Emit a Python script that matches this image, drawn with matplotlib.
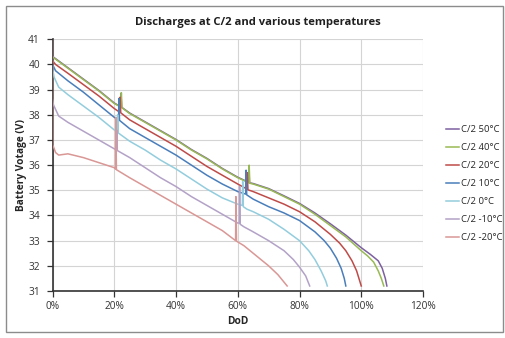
import matplotlib
matplotlib.use("Agg")
import matplotlib.pyplot as plt
from matplotlib.patches import Rectangle
from matplotlib.ticker import FuncFormatter, MultipleLocator

plt.rcParams['font.family'] = ['Open Sans', 'DejaVu Sans']

title = "Discharges at C/2 and various temperatures"
xlabel = "DoD"
ylabel = "Battery Votage (V)"
labels = ["C/2 50°C", "C/2 40°C", "C/2 20°C", "C/2 10°C", "C/2 0°C", "C/2 -10°C", "C/2 -20°C"]
colors = ["#7D60A0", "#98B954", "#BE4B48", "#4A7EBB", "#93CDDD", "#B3A2C7", "#D99795"]

# DoD in percent, voltage in V
x_50 = [0, 5, 10, 15, 20, 22.1, 22.2, 22.4, 25, 30, 35, 40, 45, 50, 55, 60, 63.5, 63.6, 63.8, 65, 70, 75, 80, 85, 90, 95, 100, 103, 105.5, 106.8, 107.8, 108.3]
y_50 = [40.32, 39.87, 39.42, 38.97, 38.47, 38.32, 38.85, 38.3, 38.07, 37.72, 37.37, 37.02, 36.62, 36.27, 35.87, 35.52, 35.32, 35.95, 35.3, 35.27, 35.07, 34.78, 34.48, 34.1, 33.67, 33.22, 32.72, 32.45, 32.2, 31.9, 31.5, 31.2]

x_40 = [0, 5, 10, 15, 20, 22.2, 22.3, 22.5, 25, 30, 35, 40, 45, 50, 55, 60, 63.6, 63.7, 63.9, 65, 70, 75, 80, 85, 90, 95, 100, 102, 104, 105.5, 106.5, 107.3]
y_40 = [40.3, 39.85, 39.4, 38.95, 38.45, 38.3, 38.88, 38.28, 38.05, 37.7, 37.35, 37.0, 36.6, 36.25, 35.85, 35.5, 35.3, 36.0, 35.28, 35.25, 35.05, 34.75, 34.45, 34.05, 33.6, 33.15, 32.6, 32.4, 32.15, 31.8, 31.5, 31.2]

x_20 = [0, 1, 5, 10, 15, 20, 21.8, 21.9, 22.1, 25, 30, 35, 40, 45, 50, 55, 60, 63.0, 63.1, 63.3, 65, 70, 75, 80, 85, 90, 93, 95, 97, 98.5, 99.5, 100]
y_20 = [40.15, 40.0, 39.65, 39.2, 38.75, 38.25, 38.1, 38.7, 38.08, 37.8, 37.45, 37.1, 36.75, 36.35, 35.95, 35.6, 35.25, 35.05, 35.7, 35.02, 34.95, 34.7, 34.45, 34.15, 33.75, 33.25, 32.9, 32.6, 32.2, 31.8, 31.4, 31.2]

x_10 = [0, 1, 5, 10, 15, 20, 21.4, 21.5, 21.7, 25, 30, 35, 40, 45, 50, 55, 60, 62.6, 62.7, 62.9, 65, 70, 75, 80, 85, 88, 90, 92, 93.5, 94.5, 95]
y_10 = [40.0, 39.75, 39.35, 38.9, 38.4, 37.9, 37.8, 38.65, 37.78, 37.45, 37.1, 36.75, 36.4, 36.0, 35.6, 35.25, 34.95, 34.85, 35.8, 34.82, 34.65, 34.35, 34.1, 33.8, 33.35, 33.0, 32.7, 32.3, 31.9, 31.5, 31.2]

x_0 = [0, 0.5, 2, 5, 10, 15, 20, 21.0, 21.1, 21.3, 25, 30, 35, 40, 45, 50, 55, 60, 61.5, 61.6, 61.8, 63, 65, 70, 75, 80, 83, 85, 87, 88.5, 89]
y_0 = [39.85, 39.5, 39.1, 38.8, 38.35, 37.9, 37.4, 37.3, 38.0, 37.28, 36.95, 36.6, 36.2, 35.85, 35.45, 35.05, 34.7, 34.45, 34.4, 35.35, 34.35, 34.25, 34.15, 33.85, 33.45, 33.0, 32.6, 32.25, 31.8, 31.4, 31.2]

x_m10 = [0, 0.3, 2, 5, 10, 15, 20, 20.7, 20.8, 21.0, 25, 30, 35, 40, 45, 50, 55, 60, 60.5, 60.6, 60.8, 62, 65, 70, 75, 78, 80, 82, 83.3]
y_m10 = [38.6, 38.4, 37.95, 37.7, 37.35, 37.0, 36.65, 36.6, 37.4, 36.58, 36.3, 35.9, 35.5, 35.15, 34.75, 34.4, 34.05, 33.7, 33.7, 35.15, 33.65, 33.55, 33.35, 33.0, 32.6, 32.25, 31.95, 31.6, 31.2]

x_m20 = [0, 0.1, 1, 2, 5, 10, 15, 20, 20.4, 20.5, 20.7, 25, 30, 35, 40, 45, 50, 55, 59.3, 59.4, 59.6, 62, 65, 70, 73, 75, 76]
y_m20 = [41.0, 36.8, 36.5, 36.4, 36.45, 36.3, 36.1, 35.9, 35.85, 37.9, 35.82, 35.5, 35.15, 34.8, 34.45, 34.1, 33.75, 33.4, 33.0, 34.75, 32.98, 32.8, 32.5, 32.0, 31.65, 31.35, 31.2]

xs = [x_50, x_40, x_20, x_10, x_0, x_m10, x_m20]
ys = [y_50, y_40, y_20, y_10, y_0, y_m10, y_m20]

W, H = 505, 338
fig = plt.figure(figsize=(W / 100, H / 100), dpi=100)
fig.patches.append(Rectangle((6 / W, 6 / H), (W - 8) / W, (H - 12) / H, transform=fig.transFigure,
                             fill=False, edgecolor="#8c8c8c", linewidth=1.0))

ax = fig.add_axes([52.5 / W, 1 - 291 / H, (423 - 52.5) / W, (291 - 39.3) / H])

for x, y, c, lab in zip(xs, ys, colors, labels):
    ax.plot(x, y, color=c, linewidth=1.1, label=lab, zorder=3)

ax.set_xlim(0, 120)
ax.set_ylim(31, 41)
ax.xaxis.set_major_locator(MultipleLocator(20))
ax.yaxis.set_major_locator(MultipleLocator(1))
ax.xaxis.set_major_formatter(FuncFormatter(lambda v, p: f"{int(round(v))}%"))
ax.grid(True, color="#d4d4d4", linewidth=0.8, zorder=0)
ax.set_axisbelow(True)
for s in ["top", "right"]:
    ax.spines[s].set_visible(False)
ax.spines["left"].set_color("#333333")
ax.spines["bottom"].set_color("#333333")
ax.spines["left"].set_linewidth(1.2)
ax.spines["bottom"].set_linewidth(1.2)
ax.tick_params(axis="both", labelsize=7.3, colors="#333333", length=4, width=0.9, direction="out")
ax.tick_params(axis="x", pad=3)
ax.tick_params(axis="y", pad=5)

fig.text(258 / W, 1 - 22 / H, title, ha="center", va="center", fontsize=8.1, fontweight="bold", color="#1f1f1f")
fig.text(237.5 / W, 1 - 322 / H, xlabel, ha="center", va="center", fontsize=7.3, fontweight="bold", color="#262626")
fig.text(22 / W, 1 - 165 / H, ylabel, ha="center", va="center", rotation=90, fontsize=7.3, fontweight="bold", color="#262626")

leg = fig.legend(loc="upper left", bbox_to_anchor=(446 / W, 1 - 125 / H), frameon=False, fontsize=6.8,
                 handlelength=1.35, handletextpad=0.2, labelspacing=0.95, borderaxespad=0, borderpad=0)
for t in leg.get_texts():
    t.set_color("#262626")

fig.savefig("out.png", dpi=100)
